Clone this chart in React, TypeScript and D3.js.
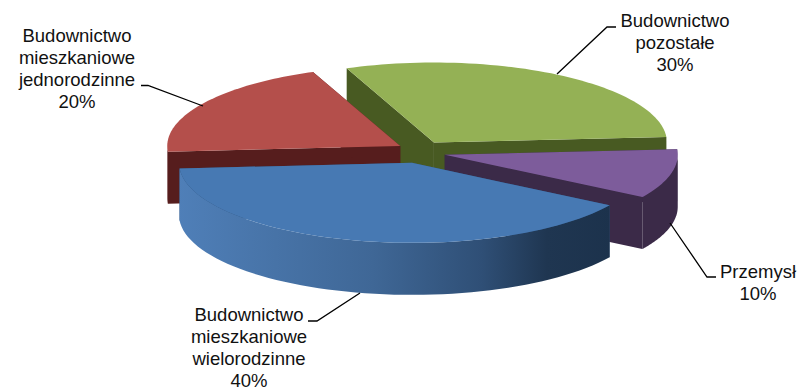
import React from "react";
import * as d3 from "d3";

const names = ["Budownictwo pozostałe", "Przemysł", "Budownictwo mieszkaniowe wielorodzinne", "Budownictwo mieszkaniowe jednorodzinne"];
const shares = [30, 10, 40, 20];
const topColors = ["#94b155", "#7d5c9b", "#4779b3", "#b44f4b"];
const wallColors = ["#485a22", "#3b2a48", "#2e5078", "#561d1d"];
const labelLines = [
  ["Budownictwo", "pozostałe", "30%"],
  ["Przemysł", "10%"],
  ["Budownictwo", "mieszkaniowe", "wielorodzinne", "40%"],
  ["Budownictwo", "mieszkaniowe", "jednorodzinne", "20%"],
];
const labelCentres = [675, 758, 249, 77];
const labelFirstBaselines = [27, 278, 321, 42];
const leaders = [
  [[557, 74], [607, 27], [616, 27]],
  [[670, 223], [707, 277], [716, 277]],
  [[360, 293], [317, 321], [308, 321]],
  [[203, 106], [148, 85.5], [141, 85.5]],
];
const blueStops = [
  [0, "#4f7fb8"],
  [0.45, "#3f6796"],
  [0.7, "#2f4f76"],
  [0.85, "#1f3651"],
  [1, "#1c324c"],
];

const cx = 421;
const cy = 152;
const rx = 233;
const ry = 80;
const depth = 52;
const explodeX = [0.105, 0.105, 0.16, 0.105];
const explodeY = 0.14;
const startAngle = (-22 * Math.PI) / 180;

const total = d3.sum(shares);
const angle = d3.scaleLinear().domain([0, total]).range([startAngle, startAngle + 2 * Math.PI]);
const cumulative = d3.cumsum(shares);

const slices = shares.map((v, i) => {
  const a0 = angle(cumulative[i] - v);
  const a1 = angle(cumulative[i]);
  const mid = (a0 + a1) / 2;
  return {
    i,
    a0,
    a1,
    ox: cx + rx * explodeX[i] * Math.sin(mid),
    oy: cy - ry * explodeY * Math.cos(mid),
  };
});

type Slice = (typeof slices)[number];
const rim = (s: Slice, a: number, drop = 0): [number, number] => [
  s.ox + rx * Math.sin(a),
  s.oy - ry * Math.cos(a) + drop,
];
const arcPoints = (s: Slice, from: number, to: number, drop = 0) =>
  d3.range(0, 61).map((k) => rim(s, from + ((to - from) * k) / 60, drop));
const path = d3.line();
const closed = (pts: [number, number][]) => path(pts) + "Z";

const topFace = (s: Slice) => closed([[s.ox, s.oy], ...arcPoints(s, s.a0, s.a1)]);
const cutFace = (s: Slice, a: number) =>
  closed([[s.ox, s.oy], rim(s, a), rim(s, a, depth), [s.ox, s.oy + depth]]);
const outerWall = (s: Slice) => {
  const from = Math.max(s.a0, Math.PI / 2);
  const to = Math.min(s.a1, (3 * Math.PI) / 2);
  if (to <= from) return null;
  return closed([...arcPoints(s, from, to), ...arcPoints(s, to, from, depth)]);
};

// Painted back to front: green, red, purple, then the blue front slice.
const paintOrder = [0, 3, 1, 2];

export default function App() {
  return (
    <svg
      width={801}
      height={388}
      style={{ position: "absolute", left: 0, top: 0, background: "#fff" }}
      fontFamily="'Liberation Sans', Arial, sans-serif"
    >
      <defs>
        <linearGradient id="frontWall" gradientUnits="userSpaceOnUse" x1={178} x2={612} y1={0} y2={0}>
          {blueStops.map(([o, c]) => (
            <stop key={o as number} offset={o as number} stopColor={c as string} />
          ))}
        </linearGradient>
      </defs>
      {paintOrder.map((idx) => {
        const s = slices[idx];
        const wall = outerWall(s);
        return (
          <g key={names[idx]}>
            <path d={cutFace(s, s.a0)} fill={wallColors[idx]} />
            <path d={cutFace(s, s.a1)} fill={wallColors[idx]} />
            {wall && <path d={wall} fill={idx === 2 ? "url(#frontWall)" : wallColors[idx]} />}
            <path d={topFace(s)} fill={topColors[idx]} />
          </g>
        );
      })}
      {leaders.map((pts, i) => (
        <path key={i} d={path(pts as [number, number][]) as string} fill="none" stroke="#000" strokeWidth={1.3} />
      ))}
      {labelLines.map((lines, i) => (
        <text key={i} textAnchor="middle" fontSize={18.5} fill="#111">
          {lines.map((line, j) => (
            <tspan key={j} x={labelCentres[i]} y={labelFirstBaselines[i] + j * 22}>
              {line}
            </tspan>
          ))}
        </text>
      ))}
    </svg>
  );
}
